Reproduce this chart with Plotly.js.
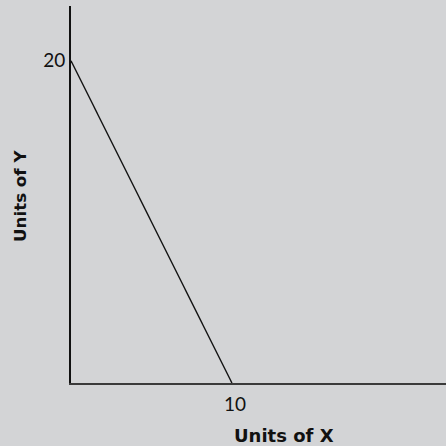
<!DOCTYPE html>
<html>
<head>
<meta charset="utf-8">
<script src="https://cdn.plot.ly/plotly-3.0.1.min.js"></script>
<style>
  html, body { margin: 0; padding: 0; background: #d3d4d6; }
  #chart { width: 446px; height: 446px; }
</style>
</head>
<body>
<div id="chart"></div>
<script>
// Budget line: all Y at one end, all X at the other
const unitsX = [0, 10];
const unitsY = [20, 0];
const xTicks = [10];
const yTicks = [20];
const xTitle = 'Units of X';
const yTitle = 'Units of Y';

const bg = '#d3d4d6';
const tickFont = 'Lato, "Open Sans", sans-serif';
const titleFont = '"DejaVu Sans", Verdana, sans-serif';

const trace = {
  x: unitsX,
  y: unitsY,
  mode: 'lines',
  line: { color: '#111', width: 1.4 },
  hoverinfo: 'none',
  cliponaxis: false
};

const layout = {
  width: 446,
  height: 446,
  margin: { l: 71, r: 0, t: 6, b: 63 },
  paper_bgcolor: bg,
  plot_bgcolor: bg,
  showlegend: false,
  font: { family: tickFont, color: '#111' },
  xaxis: {
    range: [0, 23.3],
    showgrid: false,
    zeroline: false,
    showline: true,
    linecolor: '#3a3a3a',
    linewidth: 2,
    tickmode: 'array',
    tickvals: xTicks,
    ticktext: xTicks.map(String),
    ticks: '',
    ticklen: 0,
    ticklabelstandoff: 3,
    ticklabelshift: 3,
    tickfont: { size: 19, family: tickFont, color: '#111' },
    fixedrange: true
  },
  yaxis: {
    range: [0, 23.4],
    showgrid: false,
    zeroline: false,
    showline: true,
    linecolor: '#111',
    linewidth: 2,
    tickmode: 'array',
    tickvals: yTicks,
    ticktext: yTicks.map(String),
    ticks: '',
    ticklen: 0,
    tickfont: { size: 19, family: tickFont, color: '#111' },
    fixedrange: true
  },
  annotations: [
    {
      text: '<b>' + xTitle + '</b>',
      xref: 'paper', yref: 'paper',
      x: (283.5 - 71) / 375, y: -(435 - 383) / 377,
      xanchor: 'center', yanchor: 'middle',
      showarrow: false,
      font: { size: 18, family: titleFont, color: '#111' }
    },
    {
      text: '<b>' + yTitle + '</b>',
      xref: 'paper', yref: 'paper',
      x: -(71 - 20) / 375, y: (383 - 196) / 377,
      xanchor: 'center', yanchor: 'middle',
      textangle: -90,
      showarrow: false,
      font: { size: 16.7, family: titleFont, color: '#111' }
    }
  ]
};

Plotly.newPlot('chart', [trace], layout, { displayModeBar: false, staticPlot: true });
</script>
</body>
</html>
